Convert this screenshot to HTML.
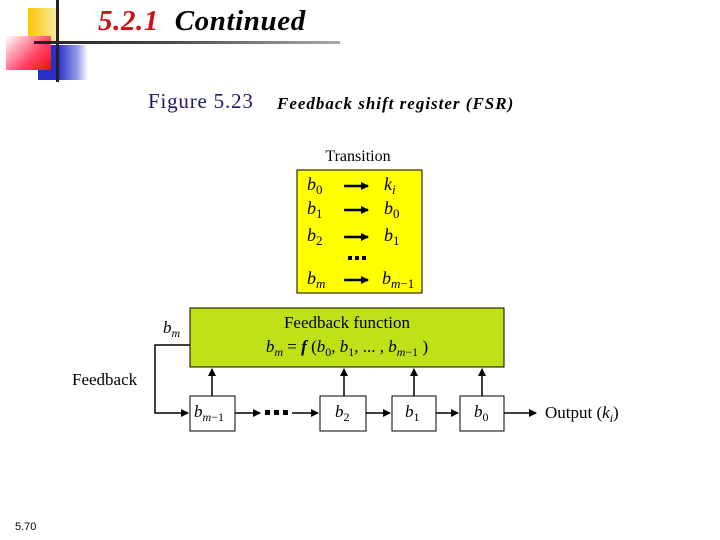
<!DOCTYPE html>
<html><head><style>
body{margin:0;width:720px;height:540px;background:#fff;position:relative;overflow:hidden;font-family:"Liberation Serif",serif}
.a{position:absolute;white-space:nowrap}
</style></head><body>
<div class="a" style="left:28px;top:8px;width:34px;height:35px;background:linear-gradient(90deg,#f8c800,#fde89a 80%,#fff)"></div>
<div class="a" style="left:38px;top:45px;width:50px;height:35px;background:linear-gradient(90deg,#2b2fc8 40%,#9aa0ee 80%,#fff)"></div>
<div class="a" style="left:6px;top:36px;width:45px;height:34px;background:linear-gradient(135deg,#fff 0%,#f46 60%,#e81010)"></div>
<div class="a" style="left:56px;top:0;width:3px;height:82px;background:#222"></div>
<div class="a" style="left:34px;top:41px;width:306px;height:3px;background:linear-gradient(90deg,#222,#444 40%,#aaa)"></div>
<div class="a" style="left:98px;top:5px;font-size:29px;font-style:italic;font-weight:bold;letter-spacing:0.6px"><span style="color:#d01010">5.2.1</span>&nbsp; Continued</div>
<div class="a" style="left:148px;top:89px;font-size:21px;color:#1a1a60;letter-spacing:0.8px">Figure 5.23</div>
<div class="a" style="left:277px;top:94px;font-size:17px;font-style:italic;font-weight:bold;letter-spacing:1px">Feedback shift register (FSR)</div>
<div class="a" style="left:15px;top:521px;font-size:11px;font-family:'Liberation Sans',sans-serif">5.70</div>
<svg class="a" style="left:0;top:0" width="720" height="540" font-family="Liberation Serif">
<defs><marker id="m" markerWidth="8" markerHeight="8" refX="7" refY="4" orient="auto" markerUnits="userSpaceOnUse"><path d="M0,0 L8,4 L0,8z"/></marker></defs>
<text x="358" y="161" font-size="16" text-anchor="middle">Transition</text>
<rect x="297" y="170" width="125" height="123" fill="#ffff00" stroke="#000"/>
<g font-size="18" font-style="italic">
<text x="307" y="190">b<tspan font-size="13" dy="4" font-style="normal">0</tspan></text>
<text x="307" y="214">b<tspan font-size="13" dy="4" font-style="normal">1</tspan></text>
<text x="307" y="241">b<tspan font-size="13" dy="4" font-style="normal">2</tspan></text>
<text x="307" y="284">b<tspan font-size="13" dy="4">m</tspan></text>
<text x="384" y="190">k<tspan font-size="13" dy="4">i</tspan></text>
<text x="384" y="214">b<tspan font-size="13" dy="4" font-style="normal">0</tspan></text>
<text x="384" y="241">b<tspan font-size="13" dy="4" font-style="normal">1</tspan></text>
<text x="382" y="284">b<tspan font-size="13" dy="4">m</tspan><tspan font-size="13" font-style="normal">−1</tspan></text>
</g>
<g stroke="#000" stroke-width="2.5" marker-end="url(#m)">
<line x1="344" y1="186" x2="368" y2="186"/><line x1="344" y1="210" x2="368" y2="210"/><line x1="344" y1="237" x2="368" y2="237"/><line x1="344" y1="280" x2="368" y2="280"/>
</g>
<g fill="#000"><rect x="348" y="256" width="4" height="4"/><rect x="355" y="256" width="4" height="4"/><rect x="362" y="256" width="4" height="4"/></g>
<rect x="190" y="308" width="314" height="59" fill="#c0e018" stroke="#000"/>
<text x="347" y="328" font-size="17" text-anchor="middle">Feedback function</text>
<text x="347" y="352" font-size="17" font-style="italic" text-anchor="middle">b<tspan font-size="12" dy="4">m</tspan><tspan dy="-4" font-style="normal"> = </tspan><tspan font-weight="bold">f</tspan><tspan font-style="normal"> (</tspan>b<tspan font-size="12" dy="4" font-style="normal">0</tspan><tspan dy="-4" font-style="normal">, </tspan>b<tspan font-size="12" dy="4" font-style="normal">1</tspan><tspan dy="-4" font-style="normal">, ... , </tspan>b<tspan font-size="12" dy="4">m</tspan><tspan font-size="12" font-style="normal">−1</tspan><tspan dy="-4" font-style="normal"> )</tspan></text>
<text x="163" y="333" font-size="17" font-style="italic">b<tspan font-size="12" dy="4">m</tspan></text>
<text x="72" y="385" font-size="17">Feedback</text>
<g fill="#fff" stroke="#000">
<rect x="190" y="396" width="45" height="35"/><rect x="320" y="396" width="46" height="35"/><rect x="392" y="396" width="44" height="35"/><rect x="460" y="396" width="44" height="35"/>
</g>
<g font-size="17" font-style="italic">
<text x="194" y="417">b<tspan font-size="12" dy="4">m</tspan><tspan font-size="12" font-style="normal">−1</tspan></text>
<text x="335" y="417">b<tspan font-size="12" dy="4" font-style="normal">2</tspan></text>
<text x="405" y="417">b<tspan font-size="12" dy="4" font-style="normal">1</tspan></text>
<text x="474" y="417">b<tspan font-size="12" dy="4" font-style="normal">0</tspan></text>
</g>
<g stroke="#000" stroke-width="1.5" fill="none">
<polyline points="190,345 155,345 155,413 188,413" marker-end="url(#m)"/>
<line x1="235" y1="413" x2="260" y2="413" marker-end="url(#m)"/>
<line x1="292" y1="413" x2="318" y2="413" marker-end="url(#m)"/>
<line x1="366" y1="413" x2="390" y2="413" marker-end="url(#m)"/>
<line x1="436" y1="413" x2="458" y2="413" marker-end="url(#m)"/>
<line x1="504" y1="413" x2="536" y2="413" marker-end="url(#m)"/>
<line x1="212" y1="396" x2="212" y2="369" marker-end="url(#m)"/>
<line x1="344" y1="396" x2="344" y2="369" marker-end="url(#m)"/>
<line x1="414" y1="396" x2="414" y2="369" marker-end="url(#m)"/>
<line x1="482" y1="396" x2="482" y2="369" marker-end="url(#m)"/>
</g>
<g fill="#000"><rect x="265" y="410" width="5" height="5"/><rect x="274" y="410" width="5" height="5"/><rect x="283" y="410" width="5" height="5"/></g>
<text x="545" y="418" font-size="17">Output (<tspan font-style="italic">k<tspan font-size="12" dy="4">i</tspan></tspan><tspan dy="-4">)</tspan></text>
</svg>
</body></html>
